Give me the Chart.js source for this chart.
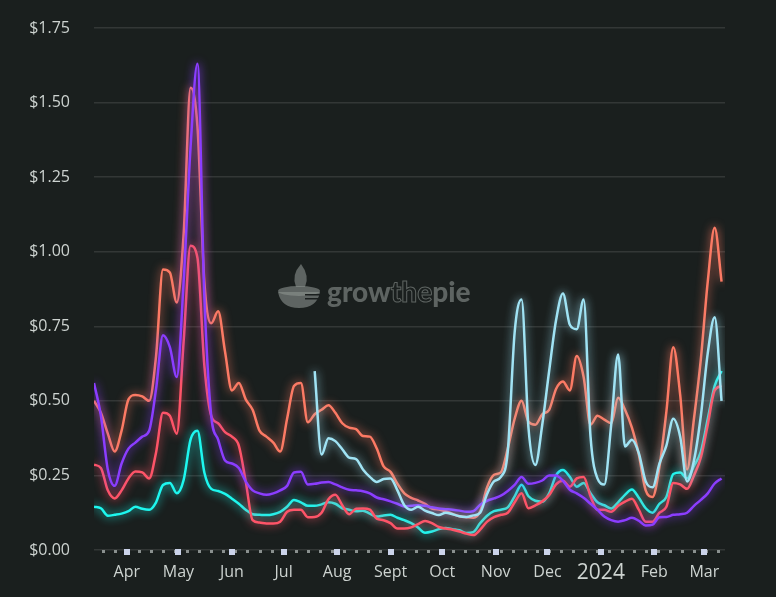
<!DOCTYPE html>
<html>
<head>
<meta charset="utf-8">
<title>Fees chart</title>
<script src="https://cdn.jsdelivr.net/npm/chart.js@4.4.1/dist/chart.umd.min.js"></script>
<style>
  html, body { margin: 0; padding: 0; background: #1a1f1e; }
  #wrap { width: 776px; height: 597px; }
</style>
</head>
<body>
<div id="wrap"><canvas id="feesChart" width="776" height="597"></canvas></div>
<script>
// Days since 13 Mar 2023, sampled every 4 days
const days = [
  0, 4, 8, 12, 16, 20, 24, 28, 32, 36, 40, 44, 48, 52, 56, 60, 64, 68, 72, 76,
  80, 84, 88, 92, 96, 100, 104, 108, 112, 116, 120, 124, 128, 132, 136, 140, 144, 148, 152, 156,
  160, 164, 168, 172, 176, 180, 184, 188, 192, 196, 200, 204, 208, 212, 216, 220, 224, 228, 232, 236,
  240, 244, 248, 252, 256, 260, 264, 268, 272, 276, 280, 284, 288, 292, 296, 300, 304, 308, 312, 316,
  320, 324, 328, 332, 336, 340, 344, 348, 352, 356, 360, 364
];

// Month starts on the x axis (same day count) and their labels
const monthDays = [19, 49, 80, 110, 141, 172, 202, 233, 263, 294, 325, 354];
const monthLabels = ['Apr', 'May', 'Jun', 'Jul', 'Aug', 'Sept', 'Oct', 'Nov', 'Dec', '2024', 'Feb', 'Mar'];

const yTicks = [0, 0.25, 0.5, 0.75, 1, 1.25, 1.5, 1.75];

// Series values (USD)
const salmonValues = [
  0.50, 0.46, 0.39, 0.33, 0.40, 0.505, 0.52, 0.515, 0.50, 0.65, 0.94, 0.93, 0.83, 1.06, 1.55, 1.42, 0.90, 0.76, 0.80, 0.665,
  0.535, 0.56, 0.505, 0.47, 0.40, 0.38, 0.36, 0.33, 0.44, 0.55, 0.56, 0.428, 0.455, 0.47, 0.485, 0.46, 0.425, 0.41, 0.405, 0.382,
  0.38, 0.34, 0.28, 0.262, 0.222, 0.19, 0.175, 0.166, 0.155, 0.139, 0.136, 0.13, 0.121, 0.113, 0.11, 0.108, 0.13, 0.21, 0.252, 0.26,
  0.34, 0.44, 0.50, 0.43, 0.42, 0.455, 0.47, 0.54, 0.565, 0.535, 0.65, 0.58, 0.42, 0.45, 0.437, 0.425, 0.51, 0.47, 0.41, 0.32,
  0.20, 0.178, 0.28, 0.464, 0.68, 0.52, 0.27, 0.44, 0.64, 0.90, 1.08, 0.90
];

const redValues = [
  0.286, 0.275, 0.20, 0.173, 0.20, 0.24, 0.263, 0.26, 0.24, 0.327, 0.46, 0.45, 0.39, 0.70, 1.02, 0.98, 0.62, 0.45, 0.425, 0.395,
  0.38, 0.35, 0.23, 0.10, 0.092, 0.089, 0.089, 0.095, 0.128, 0.135, 0.135, 0.11, 0.111, 0.125, 0.17, 0.185, 0.15, 0.12, 0.138, 0.139,
  0.135, 0.105, 0.10, 0.09, 0.072, 0.072, 0.076, 0.087, 0.097, 0.09, 0.077, 0.072, 0.068, 0.062, 0.055, 0.05, 0.068, 0.095, 0.11, 0.118,
  0.125, 0.16, 0.19, 0.14, 0.15, 0.163, 0.184, 0.22, 0.232, 0.212, 0.24, 0.245, 0.18, 0.135, 0.135, 0.128, 0.148, 0.162, 0.172, 0.135,
  0.095, 0.095, 0.125, 0.145, 0.225, 0.22, 0.205, 0.25, 0.31, 0.42, 0.535, 0.55
];

const purpleValues = [
  0.56, 0.45, 0.27, 0.215, 0.29, 0.34, 0.36, 0.38, 0.40, 0.54, 0.72, 0.68, 0.58, 0.90, 1.35, 1.63, 0.85, 0.45, 0.37, 0.30,
  0.29, 0.275, 0.23, 0.20, 0.19, 0.185, 0.19, 0.20, 0.215, 0.26, 0.262, 0.22, 0.222, 0.226, 0.228, 0.22, 0.21, 0.202, 0.20, 0.197,
  0.19, 0.176, 0.17, 0.163, 0.155, 0.146, 0.148, 0.15, 0.148, 0.143, 0.139, 0.137, 0.135, 0.132, 0.128, 0.13, 0.152, 0.165, 0.173, 0.182,
  0.198, 0.218, 0.245, 0.222, 0.225, 0.233, 0.25, 0.25, 0.232, 0.202, 0.19, 0.175, 0.155, 0.135, 0.112, 0.10, 0.095, 0.10, 0.108, 0.098,
  0.082, 0.085, 0.11, 0.111, 0.118, 0.12, 0.125, 0.148, 0.168, 0.19, 0.223, 0.24
];

const cyanValues = [
  0.145, 0.14, 0.115, 0.118, 0.122, 0.13, 0.145, 0.138, 0.135, 0.16, 0.218, 0.225, 0.19, 0.235, 0.37, 0.40, 0.26, 0.205, 0.198, 0.188,
  0.172, 0.155, 0.135, 0.12, 0.118, 0.117, 0.12, 0.128, 0.145, 0.168, 0.16, 0.148, 0.148, 0.153, 0.16, 0.155, 0.14, 0.135, 0.13, 0.132,
  0.122, 0.112, 0.116, 0.118, 0.108, 0.10, 0.09, 0.075, 0.058, 0.062, 0.07, 0.074, 0.07, 0.066, 0.057, 0.06, 0.09, 0.115, 0.13, 0.135,
  0.143, 0.18, 0.219, 0.18, 0.165, 0.162, 0.19, 0.25, 0.268, 0.245, 0.212, 0.225, 0.19, 0.16, 0.15, 0.139, 0.16, 0.185, 0.203, 0.175,
  0.14, 0.125, 0.155, 0.178, 0.255, 0.26, 0.24, 0.282, 0.33, 0.44, 0.55, 0.60
];

const lightBlueValues = [
  null, null, null, null, null, null, null, null, null, null, null, null, null, null, null, null, null, null, null, null,
  null, null, null, null, null, null, null, null, null, null, null, null, 0.60, 0.32, 0.375, 0.365, 0.338, 0.31, 0.305, 0.27,
  0.245, 0.228, 0.238, 0.24, 0.20, 0.15, 0.135, 0.145, 0.132, 0.124, 0.117, 0.125, 0.12, 0.113, 0.111, 0.116, 0.125, 0.188, 0.23, 0.245,
  0.33, 0.73, 0.84, 0.41, 0.285, 0.42, 0.60, 0.77, 0.86, 0.755, 0.74, 0.84, 0.38, 0.24, 0.22, 0.42, 0.655, 0.347, 0.37, 0.325,
  0.23, 0.21, 0.29, 0.35, 0.44, 0.38, 0.23, 0.30, 0.45, 0.66, 0.78, 0.50
];

const BG = '#1a1f1e';
const LABEL = '#cdd3d0';

function makeSeries(values, color) {
    return {
        data: days.map((d, i) => ({ x: d, y: values[i] })),
        borderColor: color,
        borderWidth: 2.5,
        pointRadius: 0,
        cubicInterpolationMode: 'monotone',
        spanGaps: false
    };
}

// Soft glow around each line
const glowPlugin = {
    id: 'glow',
    beforeDatasetDraw(chart, args) {
        const ctx = chart.ctx;
        ctx.save();
        ctx.shadowColor = args.meta.dataset.options.borderColor;
        ctx.shadowBlur = 10;
    },
    afterDatasetDraw(chart) {
        chart.ctx.restore();
    }
};

// growthepie watermark behind the lines
const watermarkPlugin = {
    id: 'watermark',
    beforeDatasetsDraw(chart) {
        const ctx = chart.ctx;
        ctx.save();
        const col = 'rgba(140,146,144,0.6)';
        ctx.fillStyle = col;
        ctx.strokeStyle = col;

        // pie bowl
        ctx.beginPath();
        ctx.ellipse(299, 291, 21, 5, 0, 0, Math.PI * 2);
        ctx.fill();
        ctx.beginPath();
        ctx.moveTo(278, 292);
        ctx.quadraticCurveTo(281, 308, 299, 308);
        ctx.quadraticCurveTo(317, 308, 320, 292);
        ctx.closePath();
        ctx.fill();
        // slice lines
        ctx.fillStyle = BG;
        ctx.fillRect(305, 294, 16, 1.5);
        ctx.fillRect(305, 298, 14, 1.5);
        ctx.fillStyle = col;
        // flame
        ctx.beginPath();
        ctx.moveTo(301, 264);
        ctx.quadraticCurveTo(291, 275, 296, 287);
        ctx.lineTo(305, 287);
        ctx.quadraticCurveTo(310, 276, 301, 264);
        ctx.fill();

        // word mark
        ctx.font = '900 28px Lato';
        ctx.textBaseline = 'alphabetic';
        ctx.textAlign = 'left';
        let x = 327;
        const y = 302;
        ctx.fillText('grow', x, y);
        x += ctx.measureText('grow').width;
        ctx.lineWidth = 1;
        ctx.strokeText('the', x, y);
        x += ctx.measureText('the').width;
        ctx.fillText('pie', x, y);
        ctx.restore();
    }
};

// Baseline markers: weekly dots and monthly squares
const baselinePlugin = {
    id: 'baseline',
    afterDraw(chart) {
        const ctx = chart.ctx;
        const xs = chart.scales.x;
        const y0 = chart.chartArea.bottom;
        ctx.save();
        ctx.fillStyle = '#8a908f';
        for (let d = 5; d <= 366; d += 7) {
            if (monthDays.includes(d)) continue;
            const px = xs.getPixelForValue(d);
            ctx.fillRect(Math.round(px) - 1, y0, 3, 3);
        }
        ctx.fillStyle = '#cbd3ea';
        monthDays.forEach(d => {
            const px = xs.getPixelForValue(d);
            ctx.fillRect(Math.round(px) - 3, y0 - 1, 6, 6);
        });
        ctx.restore();
    }
};

const chart = new Chart(document.getElementById('feesChart'), {
    type: 'line',
    data: {
        datasets: [
            makeSeries(lightBlueValues, '#a0e3f4'),
            makeSeries(purpleValues, '#8b3dff'),
            makeSeries(salmonValues, '#fc7a64'),
            makeSeries(redValues, '#fe5468'),
            makeSeries(cyanValues, '#1df7ef')
        ]
    },
    options: {
        responsive: false,
        animation: false,
        devicePixelRatio: 1,
        layout: { padding: { top: 28, right: 51, left: 0, bottom: 0 } },
        plugins: {
            legend: { display: false },
            tooltip: { enabled: false }
        },
        scales: {
            x: {
                type: 'linear',
                min: 0,
                max: 366,
                grid: { display: false },
                border: { display: false },
                afterBuildTicks(scale) {
                    scale.ticks = monthDays.map(v => ({ value: v }));
                },
                afterFit(scale) {
                    scale.height = 47;
                    scale.paddingLeft = 0;
                    scale.paddingRight = 0;
                },
                ticks: {
                    autoSkip: false,
                    maxRotation: 0,
                    padding: 5,
                    color: LABEL,
                    font(ctx) {
                        const lbl = ctx.tick ? monthLabels[monthDays.indexOf(ctx.tick.value)] : '';
                        if (lbl === '2024') {
                            return { family: 'Open Sans', size: 21, lineHeight: 0.915 };
                        }
                        return { family: 'Open Sans', size: 16, lineHeight: 1.2 };
                    },
                    callback(value) {
                        const i = monthDays.indexOf(value);
                        return i >= 0 ? monthLabels[i] : '';
                    }
                }
            },
            y: {
                min: 0,
                max: 1.75,
                afterBuildTicks(scale) {
                    scale.ticks = yTicks.map(v => ({ value: v }));
                },
                afterFit(scale) {
                    scale.width = 94;
                    scale.paddingTop = 0;
                    scale.paddingBottom = 0;
                },
                grid: {
                    color: 'rgba(255,255,255,0.11)',
                    lineWidth: 1.5,
                    drawTicks: false
                },
                border: { display: false },
                ticks: {
                    padding: 24,
                    color: LABEL,
                    font: { family: 'Open Sans', size: 16 },
                    callback(value) {
                        return '$' + Number(value).toFixed(2);
                    }
                }
            }
        }
    },
    plugins: [watermarkPlugin, glowPlugin, baselinePlugin]
});
</script>
</body>
</html>
